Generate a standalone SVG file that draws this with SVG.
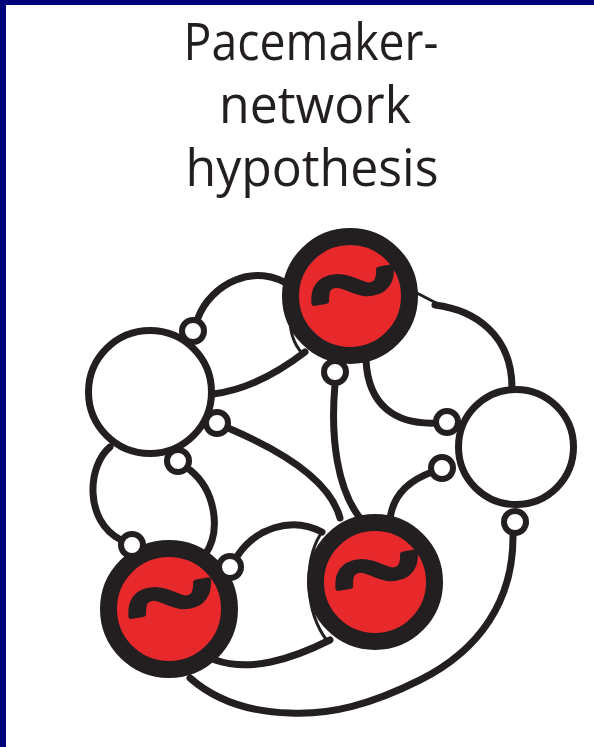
<svg xmlns="http://www.w3.org/2000/svg" width="594" height="747" viewBox="0 0 594 747">
<style>
.title{font-family:"Open Sans","Noto Sans",sans-serif;font-size:51px;fill:#231f20;text-anchor:middle}
.con{fill:none;stroke:#231f20;stroke-width:7;stroke-linecap:round}
.thin{fill:none;stroke:#231f20;stroke-width:3;stroke-linecap:round}
.cell{fill:#fff;stroke:#231f20;stroke-width:7}
.pm{fill:#e8292c;stroke:#231f20;stroke-width:17}
.syn{fill:#fff;stroke:#231f20;stroke-width:6}
.tilde{font-family:"Liberation Serif","DejaVu Serif",serif;font-weight:bold;font-size:160px;fill:#231f20;stroke:#231f20;stroke-width:7;stroke-linejoin:round;text-anchor:middle}
</style>
<rect x="0" y="0" width="594" height="747" fill="#fff"/>
<rect x="0" y="0" width="594" height="5" fill="#00007a"/>
<rect x="0" y="0" width="6" height="747" fill="#00007a"/>
<g id="title">
<text class="title" x="311" y="60" textLength="255" lengthAdjust="spacingAndGlyphs">Pacemaker-</text>
<text class="title" x="315" y="123" textLength="192" lengthAdjust="spacingAndGlyphs">network</text>
<text class="title" x="312" y="186" textLength="253" lengthAdjust="spacingAndGlyphs">hypothesis</text>
</g>
<g id="connectors">
<path class="con" d="M198 318 C210 285 255 260 292 287"/>
<path class="con" d="M213 394 C245 390 275 375 305 352"/>
<path class="thin" d="M290 318 Q290 340 302 353"/>
<path class="con" d="M335 384 C330 440 338 490 360 518"/>
<path class="thin" d="M413 291 L440 305"/>
<path class="con" d="M435 305 C475 310 512 335 512 388"/>
<path class="con" d="M366 360 C368 405 395 425 437 423"/>
<path class="con" d="M432 472 C405 482 392 498 390 520"/>
<path class="con" d="M513 534 C514 600 480 650 420 680 C370 705 330 715 290 713 C250 712 215 700 190 678"/>
<path class="thin" d="M192 637 L199 650"/>
<path class="con" d="M238 555 C255 530 290 515 322 532"/>
<path class="thin" d="M320 535 C305 560 303 610 328 642"/>
<path class="con" d="M215 660 C250 672 290 660 330 640"/>
<path class="con" d="M228 428 C280 450 330 480 340 518"/>
<path class="con" d="M190 470 C215 490 222 530 205 555"/>
<path class="con" d="M110 447 C88 465 83 520 121 540"/>
</g>
<g id="node-left"><circle class="cell" cx="150" cy="392" r="61.5"/></g>
<g id="node-right"><circle class="cell" cx="516" cy="447" r="57.5"/></g>
<g id="node-pacemaker-top">
<circle class="pm" cx="350" cy="296" r="59.5"/>
<g transform="translate(353,287) rotate(-10) scale(1,0.75)"><text class="tilde" x="0" y="50">~</text></g>
</g>
<g id="node-pacemaker-bottom-left">
<circle class="pm" cx="169" cy="609" r="60.5"/>
<g transform="translate(170,600) rotate(-10) scale(1,0.75)"><text class="tilde" x="0" y="50">~</text></g>
</g>
<g id="node-pacemaker-bottom-middle">
<circle class="pm" cx="375" cy="582" r="59.5"/>
<g transform="translate(377,572) rotate(-10) scale(1,0.75)"><text class="tilde" x="0" y="50">~</text></g>
</g>
<g id="syn-1"><circle class="syn" cx="193" cy="331" r="11"/></g>
<g id="syn-2"><circle class="syn" cx="335" cy="372" r="11"/></g>
<g id="syn-3"><circle class="syn" cx="217" cy="423" r="11"/></g>
<g id="syn-4"><circle class="syn" cx="178" cy="461" r="11"/></g>
<g id="syn-5"><circle class="syn" cx="447" cy="422" r="11"/></g>
<g id="syn-6"><circle class="syn" cx="442" cy="468" r="11"/></g>
<g id="syn-7"><circle class="syn" cx="515" cy="522" r="11"/></g>
<g id="syn-8"><circle class="syn" cx="132" cy="545" r="11"/></g>
<g id="syn-9"><circle class="syn" cx="230" cy="567" r="11"/></g>
</svg>
